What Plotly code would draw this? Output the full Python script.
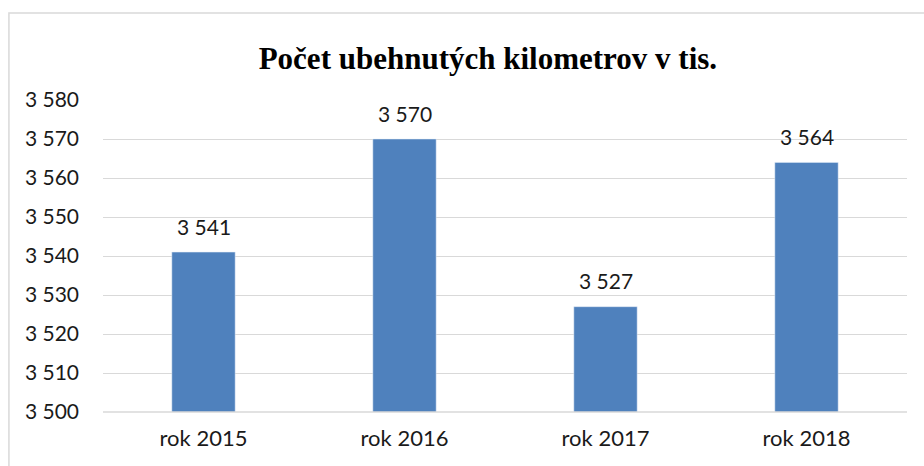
import plotly.graph_objects as go

categories = ["rok 2015", "rok 2016", "rok 2017", "rok 2018"]
values = [3541, 3570, 3527, 3564]
y_ticks = [3500, 3510, 3520, 3530, 3540, 3550, 3560, 3570, 3580]
title_text = "Počet ubehnutých kilometrov v tis."

def fmt(v):
    return f"{v:,}".replace(",", " ")

FONT = "Lato, Carlito, sans-serif"
TXT = "#1a1a1a"

fig = go.Figure()
fig.add_trace(go.Bar(
    x=categories, y=values, marker_color="#4F81BD", width=0.315,
    hoverinfo="skip",
))
for c, v in zip(categories, values):
    fig.add_annotation(x=c, y=v, text=fmt(v), showarrow=False, yshift=26,
                       font=dict(family=FONT, size=21, color=TXT))

fig.update_layout(
    width=924, height=466,
    margin=dict(l=103, r=17, t=100, b=54),
    paper_bgcolor="white", plot_bgcolor="white",
    showlegend=False,
    title=dict(text="<b>" + title_text + "</b>", x=0.528, xanchor="center", y=0.876, yanchor="middle",
               font=dict(family="Liberation Serif, Times New Roman, serif", size=31, color="black")),
    xaxis=dict(showgrid=False, showline=False, ticks="", ticklabelstandoff=11,
               tickfont=dict(family=FONT, size=22, color=TXT)),
    yaxis=dict(range=[3500, 3580], tickvals=y_ticks, ticktext=[fmt(t) for t in y_ticks],
               showgrid=True, gridcolor="#D9D9D9", gridwidth=1.3, zeroline=False, showline=False,
               ticks="", ticklabelstandoff=23,
               tickfont=dict(family=FONT, size=21, color=TXT)),
)
fig.add_shape(type="line", xref="paper", yref="paper", x0=0, x1=1, y0=0, y1=0,
              line=dict(color="#D9D9D9", width=1.5))
# outer chart border (cropped on right and bottom)
fig.add_shape(type="rect", xref="paper", yref="paper", x0=-0.117, x1=1.2, y0=-0.5, y1=1.279,
              line=dict(color="#D9D9D9", width=1.5), fillcolor="rgba(0,0,0,0)", layer="below")
fig.write_html("out.html", config={"displayModeBar": False},
               post_script="document.body.style.margin='0px';")
